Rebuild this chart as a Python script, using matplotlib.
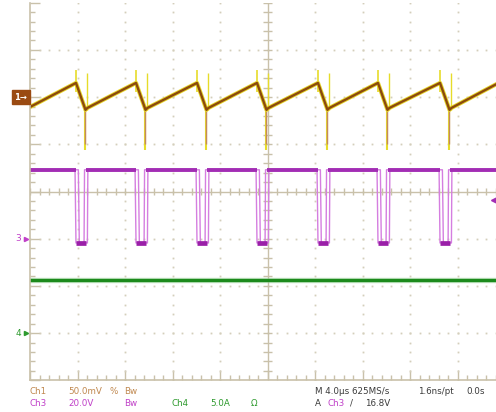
"""Oscilloscope capture re-drawn: Ch1 ripple, Ch3 switch node, Ch4 current."""
import matplotlib

matplotlib.use("Agg")
import matplotlib.pyplot as plt
import numpy as np

# --- values, in graticule divisions (10 x 8, centre = 0) ---
EDGES = [0.968, 2.232, 3.516, 4.779, 6.063, 7.326, 8.632]  # switching instants
CH1_START, CH1_END = 1.79, 2.27      # trace level at left / right border
CH1_LOW = 1.77                       # ramp start after the edge
CH1_PEAK = 2.30                      # ramp top just before the edge
CH1_SPIKE_UP = 2.57
CH1_DIP = 1.73
CH1_SPIKE_DOWN = 0.88
CH1_SPIKE2_UP = 2.51
CH3_HIGH = 0.46
CH3_LOW = -1.09
PULSE_W = 0.19
CH4_LEVEL = -1.87
TRIG_LEVEL = -0.18
REF_LEVELS = [2.0, -1.0, -3.0]       # ground markers 1, 3, 4

ROW1 = [("Ch1", 30, "#c0884f"), ("50.0mV", 68, "#c0884f"), ("%", 110, "#c0884f"),
        ("Bw", 124, "#c0884f"), ("M 4.0µs 625MS/s", 315, "#3a3a3a"),
        ("1.6ns/pt", 418, "#3a3a3a"), ("0.0s", 466, "#3a3a3a")]
ROW2 = [("Ch3", 30, "#c040c8"), ("20.0V", 68, "#c040c8"), ("Bw", 124, "#c040c8"),
        ("Ch4", 172, "#2e9a2e"), ("5.0A", 210, "#2e9a2e"), ("Ω", 251, "#2e9a2e"),
        ("A", 315, "#3a3a3a"), ("Ch3", 327, "#c040c8"), ("/", 350, "#3a3a3a"),
        ("16.8V", 365, "#3a3a3a")]

W, H = 496, 412
GRAT = "#c9c1aa"
DOT = "#d4cebb"

fig = plt.figure(figsize=(W / 100, H / 100), dpi=100, facecolor="white")
ax = fig.add_axes([30 / W, (H - 380.3) / H, 475 / W, 377.6 / H])
ax.set_xlim(0, 10)
ax.set_ylim(-4, 4)
ax.set_facecolor("white")
for s in ["top", "right"]:
    ax.spines[s].set_visible(False)
for s in ["left", "bottom"]:
    ax.spines[s].set_color(GRAT)
    ax.spines[s].set_linewidth(1.2)
ax.set_xticks(np.arange(0, 10.01, 1))
ax.set_yticks(np.arange(-4, 4.01, 1))
ax.set_xticks(np.arange(0, 10.01, 0.2), minor=True)
ax.set_yticks(np.arange(-4, 4.01, 0.2), minor=True)
ax.tick_params(which="both", direction="in", color=GRAT, labelbottom=False, labelleft=False)
ax.tick_params(which="major", length=7, width=1.0)
ax.tick_params(which="minor", length=3.5, width=1.0)

# dotted graticule
fine = np.arange(-4, 4.01, 0.2)
for gx in [1, 2, 3, 4, 6, 7, 8, 9]:
    ax.plot(np.full_like(fine, gx), fine, ls="none", marker="s", ms=1.3, color=DOT, mew=0)
fine_x = np.arange(0, 10.01, 0.2)
for gy in [-3, -2, -1, 1, 2, 3]:
    ax.plot(fine_x, np.full_like(fine_x, gy), ls="none", marker="s", ms=1.3, color=DOT, mew=0)
# centre cross with ticks
ax.axvline(5, color=GRAT, lw=1.0)
ax.axhline(0, color=GRAT, lw=1.0)
ax.hlines(fine, 4.9, 5.1, color=GRAT, lw=1.0)
ax.vlines(fine_x, -0.07, 0.07, color=GRAT, lw=1.0)

# Ch4 - flat current trace
ax.axhline(CH4_LEVEL, color="#7cc27c", lw=3.8, alpha=0.6)
ax.axhline(CH4_LEVEL, color="#1c8a1c", lw=2.2)

# Ch3 - switch node
px, py = [0.0], [CH3_HIGH]
for t in EDGES:
    px += [t, t + 0.02, t + PULSE_W, t + PULSE_W + 0.01]
    py += [CH3_HIGH, CH3_LOW, CH3_LOW, CH3_HIGH]
px.append(10.0)
py.append(CH3_HIGH)
px = np.array(px)
ax.plot(px - 0.02, py, color="#d57ee0", lw=1.0)
ax.plot(px + 0.05, py, color="#d57ee0", lw=1.0)
starts = [0.0] + [t + PULSE_W + 0.03 for t in EDGES]
ends = [t for t in EDGES] + [10.0]
ax.hlines([CH3_HIGH] * len(starts), starts, ends, color="#a22db4", lw=2.8)
ax.hlines([CH3_LOW] * len(EDGES), [t for t in EDGES], [t + PULSE_W + 0.03 for t in EDGES],
          color="#9a1fa8", lw=3.4)

# Ch1 - output ripple
cx, cy = [0.0], [CH1_START]
for t in EDGES:
    cx += [t, t + 0.2, t + 0.24]
    cy += [CH1_PEAK, CH1_DIP, CH1_LOW]
cx.append(9.81)
cy.append(CH1_END)
for t in EDGES:
    ax.vlines(t + 0.19, CH1_SPIKE_DOWN, CH1_DIP, color="#e6dc2a", lw=1.5)
    ax.vlines(t + 0.19, CH1_SPIKE_DOWN + 0.12, CH1_DIP, color="#c48a5e", lw=1.0)
    ax.vlines(t + 0.23, CH1_DIP, CH1_SPIKE2_UP, color="#e6dc2a", lw=1.0)
    ax.vlines(t, CH1_PEAK - 0.2, CH1_SPIKE_UP, color="#e6dc2a", lw=1.2)
ax.plot(cx, cy, color="#e6d52a", lw=3.0, solid_joinstyle="round")
ax.plot(cx, cy, color="#8c4a0c", lw=1.7, solid_joinstyle="round")

# trigger level arrow on the right
ax.plot([9.77], [TRIG_LEVEL], marker="<", ms=4, color="#a22db4", clip_on=False)

# ground reference markers on the left
ax.text(-0.06, REF_LEVELS[0], "1→", ha="right", va="center", fontsize=6, color="white",
        fontweight="bold", clip_on=False,
        bbox=dict(boxstyle="square,pad=0.3", facecolor="#9a4a12", edgecolor="#9a4a12"))
ax.text(-0.19, REF_LEVELS[1], "3", ha="right", va="center", fontsize=6.5, color="#c040c8", clip_on=False)
ax.plot([-0.08], [REF_LEVELS[1]], marker=">", ms=3, color="#c040c8", clip_on=False)
ax.text(-0.19, REF_LEVELS[2], "4", ha="right", va="center", fontsize=6.5, color="#2e9a2e", clip_on=False)
ax.plot([-0.08], [REF_LEVELS[2]], marker=">", ms=3, color="#2e9a2e", clip_on=False)

# status lines under the screen
for row, yy in [(ROW1, 391), (ROW2, 403)]:
    for txt, xx, col in row:
        fig.text(xx / W, 1 - yy / H, txt, ha="left", va="center", fontsize=6.3, color=col)

fig.savefig("out.png", dpi=100, facecolor="white")
